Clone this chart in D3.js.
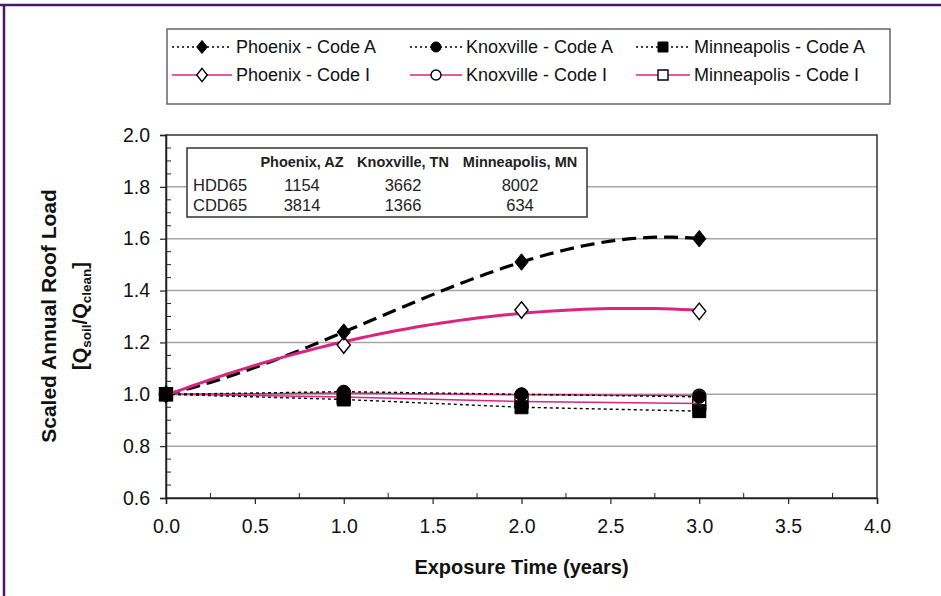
<!DOCTYPE html>
<html>
<head>
<meta charset="utf-8">
<script src="https://cdn.jsdelivr.net/npm/d3@7/dist/d3.min.js"></script>
<style>
  html, body { margin: 0; padding: 0; background: #fff; }
  svg { display: block; font-family: "Liberation Sans", Arial, sans-serif; }
</style>
</head>
<body>
<svg id="chart" width="941" height="596"></svg>
<script>
// Exposure time (years) at which roof loads were evaluated
const years = [0, 1, 2, 3];

// Scaled annual roof load Q_soil / Q_clean for each city and roof code
const phoenixA     = [1.00, 1.24, 1.51, 1.60];
const knoxvilleA   = [1.00, 1.01, 1.00, 0.99];
const minneapolisA = [1.00, 0.98, 0.95, 0.935];
const phoenixI     = [1.00, 1.19, 1.325, 1.32];
const knoxvilleI   = [1.00, 1.005, 0.998, 0.995];
const minneapolisI = [1.00, 0.99, 0.972, 0.964];

// Climate table shown inside the plot
const tableCities = ["Phoenix, AZ", "Knoxville, TN", "Minneapolis, MN"];
const tableRowNames = ["HDD65", "CDD65"];
const hdd65 = [1154, 3662, 8002];
const cdd65 = [3814, 1366, 634];

// Axis ticks
const xTicks = [0, 0.5, 1, 1.5, 2, 2.5, 3, 3.5, 4];
const yTicks = [0.6, 0.8, 1.0, 1.2, 1.4, 1.6, 1.8, 2.0];

const PINK = "#da2480";

// name, values, colour, dash, width, marker, filled, trend order (0 = straight segments)
const series = [
  { name: "Knoxville - Code I",   values: knoxvilleI,   color: PINK,   dash: null,  width: 1.5, marker: "circle",  filled: false, order: 0 },
  { name: "Minneapolis - Code I", values: minneapolisI, color: PINK,   dash: null,  width: 1.5, marker: "square",  filled: false, order: 0 },
  { name: "Knoxville - Code A",   values: knoxvilleA,   color: "#000", dash: "3,3", width: 1.4, marker: "circle",  filled: true,  order: 0 },
  { name: "Minneapolis - Code A", values: minneapolisA, color: "#000", dash: "3,3", width: 1.4, marker: "square",  filled: true,  order: 0 },
  { name: "Phoenix - Code A",     values: phoenixA,     color: "#000", dash: "14,7", width: 3.2, marker: "diamond", filled: true,  order: 3 },
  { name: "Phoenix - Code I",     values: phoenixI,     color: PINK,   dash: null,  width: 3,   marker: "diamond", filled: false, order: 2 }
];

const svg = d3.select("#chart");

// page frame
svg.append("line").attr("x1", 0).attr("x2", 941).attr("y1", 5).attr("y2", 5)
  .attr("stroke", "#4a1870").attr("stroke-width", 2.5);
svg.append("line").attr("x1", 4).attr("x2", 4).attr("y1", 4).attr("y2", 596)
  .attr("stroke", "#4a1870").attr("stroke-width", 2.5);

const plot = { left: 166, right: 877, top: 135, bottom: 498 };
const x = d3.scaleLinear().domain([0, 4]).range([plot.left, plot.right]);
const y = d3.scaleLinear().domain([0.6, 2.0]).range([plot.bottom, plot.top]);

// gridlines
svg.append("g").selectAll("line").data(yTicks.filter(v => v > 0.6 && v < 2.0)).join("line")
  .attr("x1", plot.left).attr("x2", plot.right)
  .attr("y1", d => y(d)).attr("y2", d => y(d))
  .attr("stroke", "#a6a6a6").attr("stroke-width", 1.5);

// plot frame
svg.append("rect").attr("x", plot.left).attr("y", plot.top)
  .attr("width", plot.right - plot.left).attr("height", plot.bottom - plot.top)
  .attr("fill", "none").attr("stroke", "#333").attr("stroke-width", 1.5);

// y axis
const yAxis = d3.axisLeft(y).tickValues(yTicks).tickFormat(d3.format(".1f")).tickSize(6).tickPadding(10);
const gy = svg.append("g").attr("transform", `translate(${plot.left},0)`).call(yAxis);
gy.select(".domain").attr("stroke", "#222").attr("stroke-width", 1.5);
gy.selectAll(".tick line").attr("stroke", "#222").attr("stroke-width", 1.2);
gy.selectAll("text").attr("font-size", 19.5).attr("fill", "#111").attr("font-family", "Liberation Sans, Arial, sans-serif");
const yMinor = d3.range(0.65, 2.0, 0.05).filter(v => Math.abs(Math.round(v * 5) - v * 5) > 0.01);
svg.append("g").selectAll("line").data(yMinor).join("line")
  .attr("x1", plot.left).attr("x2", plot.left + 5)
  .attr("y1", d => y(d)).attr("y2", d => y(d))
  .attr("stroke", "#222").attr("stroke-width", 1);

// x axis
const xAxis = d3.axisBottom(x).tickValues(xTicks).tickFormat(d3.format(".1f")).tickSize(6).tickPadding(15);
const gx = svg.append("g").attr("transform", `translate(0,${plot.bottom})`).call(xAxis);
gx.select(".domain").attr("stroke", "#222").attr("stroke-width", 1.5);
gx.selectAll(".tick line").attr("stroke", "#222").attr("stroke-width", 1.2);
gx.selectAll("text").attr("font-size", 19.5).attr("fill", "#111").attr("font-family", "Liberation Sans, Arial, sans-serif");
const xMinor = d3.range(0.25, 4, 0.5);
svg.append("g").selectAll("line").data(xMinor).join("line")
  .attr("x1", d => x(d)).attr("x2", d => x(d))
  .attr("y1", plot.bottom).attr("y2", plot.bottom - 5)
  .attr("stroke", "#222").attr("stroke-width", 1);

// axis titles
svg.append("text").attr("x", (plot.left + plot.right) / 2).attr("y", 574)
  .attr("text-anchor", "middle").attr("font-size", 20).attr("font-weight", "bold")
  .attr("fill", "#111").text("Exposure Time (years)");

const ytitle = svg.append("g").attr("transform", "translate(56,316) rotate(-90)");
ytitle.append("text").attr("text-anchor", "middle").attr("font-size", 21)
  .attr("font-weight", "bold").attr("fill", "#111").text("Scaled Annual Roof Load");
const yt2 = ytitle.append("text").attr("text-anchor", "middle").attr("y", 31)
  .attr("font-size", 20).attr("font-weight", "bold").attr("fill", "#111");
yt2.append("tspan").text("[Q");
yt2.append("tspan").attr("font-size", 13.5).attr("dy", 4).text("soil");
yt2.append("tspan").attr("dy", -4).text("/Q");
yt2.append("tspan").attr("font-size", 13.5).attr("dy", 4).text("clean");
yt2.append("tspan").attr("dy", -4).text("]");

// least-squares polynomial fit, used for the trend curves of the Phoenix series
function polyFit(xs, ys, order) {
  const n = order + 1;
  const A = Array.from({ length: n }, () => new Array(n + 1).fill(0));
  xs.forEach((xv, k) => {
    for (let i = 0; i < n; i++) {
      for (let j = 0; j < n; j++) A[i][j] += Math.pow(xv, i + j);
      A[i][n] += ys[k] * Math.pow(xv, i);
    }
  });
  for (let i = 0; i < n; i++) {
    let p = i;
    for (let r = i + 1; r < n; r++) if (Math.abs(A[r][i]) > Math.abs(A[p][i])) p = r;
    [A[i], A[p]] = [A[p], A[i]];
    for (let r = 0; r < n; r++) {
      if (r === i) continue;
      const f = A[r][i] / A[i][i];
      for (let c = i; c <= n; c++) A[r][c] -= f * A[i][c];
    }
  }
  const coef = A.map((row, i) => row[n] / row[i]);
  return xv => coef.reduce((s, c, i) => s + c * Math.pow(xv, i), 0);
}

// marker shapes
function markerPath(kind, size) {
  if (kind === "diamond") { const w = size * 0.44, h = size * 0.55; return `M0,${-h}L${w},0L0,${h}L${-w},0Z`; }
  if (kind === "square") { const h = size / 2; return `M${-h},${-h}H${h}V${h}H${-h}Z`; }
  const r = size / 2; return `M${r},0A${r},${r} 0 1,1 ${-r},0A${r},${r} 0 1,1 ${r},0Z`;
}
function drawMarker(g, s, cx, cy, size) {
  g.append("path").attr("d", markerPath(s.marker, size))
    .attr("transform", `translate(${cx},${cy})`)
    .attr("fill", s.filled ? "#000" : "#fff")
    .attr("stroke", "#000").attr("stroke-width", s.filled ? 1 : 1.4);
}

// open markers of the low Code I series sit beneath everything else
const underMarkers = svg.append("g");
[series[0], series[1]].forEach(s => {
  years.forEach((t, i) => drawMarker(underMarkers, s, x(t), y(s.values[i]), 13));
});

// series lines
const lineGen = d3.line().x(d => x(d[0])).y(d => y(d[1]));
const curveGroup = svg.append("g");
series.forEach(s => {
  let pts;
  if (s.order > 0) {
    const f = polyFit(years, s.values, s.order);
    const x0 = d3.min(years), x1 = d3.max(years);
    pts = d3.range(0, 61).map(i => { const xv = x0 + (x1 - x0) * i / 60; return [xv, f(xv)]; });
  } else {
    pts = years.map((t, i) => [t, s.values[i]]);
  }
  curveGroup.append("path").attr("d", lineGen(pts))
    .attr("fill", "none").attr("stroke", s.color).attr("stroke-width", s.width)
    .attr("stroke-dasharray", s.dash).attr("stroke-linejoin", "round");
});

// remaining markers above the lines: Phoenix, then Knoxville and Minneapolis Code A on top
const markerGroup = svg.append("g");
[series[5], series[4], series[2], series[3]].forEach(s => {
  years.forEach((t, i) => drawMarker(markerGroup, s, x(t), y(s.values[i]), s.marker === "diamond" ? 15 : 13));
});

// climate table
const tbl = svg.append("g");
tbl.append("rect").attr("x", 187).attr("y", 148).attr("width", 400).attr("height", 69)
  .attr("fill", "#fff").attr("stroke", "#333").attr("stroke-width", 1.5);
const colX = [302, 403, 520];
tableCities.forEach((c, i) => tbl.append("text").attr("x", colX[i]).attr("y", 167)
  .attr("text-anchor", "middle").attr("font-size", 14.5).attr("font-weight", "bold").attr("fill", "#222").text(c));
[hdd65, cdd65].forEach((row, r) => {
  const ty = 191 + r * 20;
  tbl.append("text").attr("x", 193).attr("y", ty).attr("font-size", 16.5).attr("fill", "#222").text(tableRowNames[r]);
  row.forEach((v, i) => tbl.append("text").attr("x", colX[i]).attr("y", ty)
    .attr("text-anchor", "middle").attr("font-size", 16.5).attr("fill", "#222").text(v));
});

// legend
const legendItems = [
  { s: series[4], col: 0, row: 0 }, { s: series[2], col: 1, row: 0 }, { s: series[3], col: 2, row: 0 },
  { s: series[5], col: 0, row: 1 }, { s: series[0], col: 1, row: 1 }, { s: series[1], col: 2, row: 1 }
];
const legCols = [{ x1: 172, x2: 232, tx: 236 }, { x1: 410, x2: 462, tx: 466 }, { x1: 636, x2: 690, tx: 694 }];
const legRows = [47, 75];
const leg = svg.append("g");
leg.append("rect").attr("x", 167).attr("y", 29).attr("width", 723).attr("height", 75)
  .attr("fill", "#fff").attr("stroke", "#666").attr("stroke-width", 1.5);
legendItems.forEach(it => {
  const c = legCols[it.col], ly = legRows[it.row];
  leg.append("line").attr("x1", c.x1).attr("x2", c.x2).attr("y1", ly).attr("y2", ly)
    .attr("stroke", it.s.color === "#000" ? "#000" : PINK)
    .attr("stroke-width", it.s.color === "#000" ? 1.4 : 1.5)
    .attr("stroke-dasharray", it.s.color === "#000" ? "2,3" : null);
  drawMarker(leg, it.s, (c.x1 + c.x2) / 2, ly, it.s.marker === "diamond" ? 12 : 10);
  leg.append("text").attr("x", c.tx).attr("y", ly + 6).attr("font-size", 18).attr("fill", "#111").text(it.s.name);
});
</script>
</body>
</html>
